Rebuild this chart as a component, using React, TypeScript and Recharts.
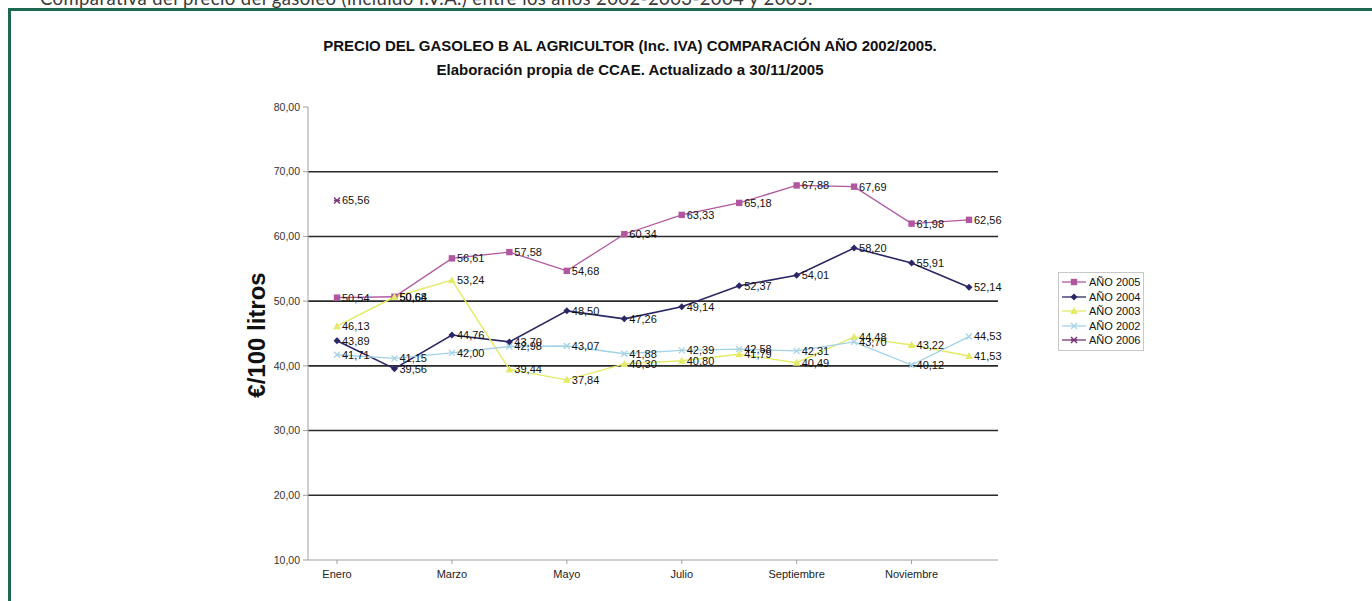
import React from 'react';
import { LineChart, Line, XAxis, YAxis, ReferenceLine, LabelList } from 'recharts';

const months = ['Enero', 'Febrero', 'Marzo', 'Abril', 'Mayo', 'Junio', 'Julio', 'Agosto', 'Septiembre', 'Octubre', 'Noviembre', 'Diciembre'];
const y2005 = [50.54, 50.68, 56.61, 57.58, 54.68, 60.34, 63.33, 65.18, 67.88, 67.69, 61.98, 62.56];
const y2004 = [43.89, 39.56, 44.76, 43.7, 48.5, 47.26, 49.14, 52.37, 54.01, 58.2, 55.91, 52.14];
const y2003 = [46.13, 50.64, 53.24, 39.44, 37.84, 40.3, 40.8, 41.79, 40.49, 44.48, 43.22, 41.53];
const y2002 = [41.71, 41.15, 42.0, 42.98, 43.07, 41.88, 42.39, 42.58, 42.31, 43.7, 40.12, 44.53];
const y2006: (number | null)[] = [65.56, null, null, null, null, null, null, null, null, null, null, null];
const yTicks = [10, 20, 30, 40, 50, 60, 70, 80];
const gridValues = [20, 30, 40, 50, 60, 70];

const data = months.map((m, i) => ({
  month: m,
  a2005: y2005[i],
  a2004: y2004[i],
  a2003: y2003[i],
  a2002: y2002[i],
  a2006: y2006[i],
}));

type Shape = 'square' | 'diamond' | 'triangle' | 'x' | 'star';
const series: { key: string; name: string; color: string; width: number; shape: Shape }[] = [
  { key: 'a2005', name: 'AÑO 2005', color: '#b0579f', width: 1.3, shape: 'square' },
  { key: 'a2004', name: 'AÑO 2004', color: '#2b2766', width: 1.6, shape: 'diamond' },
  { key: 'a2003', name: 'AÑO 2003', color: '#e4ea66', width: 1.4, shape: 'triangle' },
  { key: 'a2002', name: 'AÑO 2002', color: '#a3d2e6', width: 1.4, shape: 'x' },
  { key: 'a2006', name: 'AÑO 2006', color: '#7a3678', width: 1.3, shape: 'star' },
];

const FONT = '"Liberation Sans", Arial, sans-serif';

function marker(shape: Shape, cx: number, cy: number, color: string, key?: string) {
  const s = 3.2;
  switch (shape) {
    case 'square':
      return <rect key={key} x={cx - s} y={cy - s} width={2 * s} height={2 * s} fill={color} />;
    case 'diamond':
      return <polygon key={key} points={`${cx},${cy - 3.5} ${cx + 3.5},${cy} ${cx},${cy + 3.5} ${cx - 3.5},${cy}`} fill={color} />;
    case 'triangle':
      return <polygon key={key} points={`${cx},${cy - 4} ${cx + 3.8},${cy + 3} ${cx - 3.8},${cy + 3}`} fill={color} />;
    case 'x':
      return (
        <g key={key} stroke={color} strokeWidth={1.3}>
          <line x1={cx - 3} y1={cy - 3} x2={cx + 3} y2={cy + 3} />
          <line x1={cx - 3} y1={cy + 3} x2={cx + 3} y2={cy - 3} />
        </g>
      );
    case 'star':
    default:
      return (
        <g key={key} stroke={color} strokeWidth={1.5}>
          <line x1={cx - 3} y1={cy - 3} x2={cx + 3} y2={cy + 3} />
          <line x1={cx - 3} y1={cy + 3} x2={cx + 3} y2={cy - 3} />
          <line x1={cx - 3} y1={cy} x2={cx + 3} y2={cy} />
        </g>
      );
  }
}

const fmt = (v: any) => (v === null || v === undefined ? '' : Number(v).toFixed(2).replace('.', ','));

export default function App() {
  return (
    <div style={{ position: 'fixed', left: 0, top: 0, width: 1372, height: 601, background: '#fff', overflow: 'hidden' }}>
      <div
        style={{
          position: 'absolute',
          left: 40,
          top: -13,
          fontFamily: 'Lato, "Open Sans", sans-serif',
          fontSize: 18.5,
          letterSpacing: 0.4,
          color: '#3a3a3a',
          whiteSpace: 'nowrap',
        }}
      >
        Comparativa del precio del gasóleo (incluido I.V.A.) entre los años 2002-2003-2004 y 2005.
      </div>
      <div
        style={{
          position: 'absolute',
          left: 8,
          top: 8,
          width: 1400,
          height: 700,
          borderLeft: '3px solid #1e6a50',
          borderTop: '3px solid #1e6a50',
        }}
      />
      <div
        style={{
          position: 'absolute',
          left: 0,
          top: 34,
          width: 1260,
          textAlign: 'center',
          fontFamily: FONT,
          fontWeight: 'bold',
          fontSize: 15,
          lineHeight: '24px',
          color: '#111',
        }}
      >
        PRECIO DEL GASOLEO B AL AGRICULTOR (Inc. IVA) COMPARACIÓN AÑO 2002/2005.
        <br />
        Elaboración propia de CCAE. Actualizado a 30/11/2005
      </div>
      <div
        style={{
          position: 'absolute',
          left: 257,
          top: 335,
          transform: 'translate(-50%, -50%) rotate(-90deg)',
          fontFamily: FONT,
          fontWeight: 'bold',
          fontSize: 24,
          color: '#111',
          whiteSpace: 'nowrap',
        }}
      >
        €/100 litros
      </div>
      <div style={{ position: 'absolute', left: 0, top: 0 }}>
        <LineChart width={1372} height={601} data={data} margin={{ top: 107, right: 374, bottom: 11, left: 248 }}>
          {gridValues.map((v) => (
            <ReferenceLine key={v} y={v} stroke="#2a2a2a" strokeWidth={1.6} />
          ))}
          <XAxis
            dataKey="month"
            interval={1}
            height={30}
            padding={{ left: 29, right: 29 }}
            stroke="#a0a0a0"
            tick={{ fill: '#222', fontSize: 11, fontFamily: FONT }}
            tickSize={4}
            tickMargin={6}
          />
          <YAxis
            domain={[10, 80]}
            ticks={yTicks}
            width={60}
            stroke="#a0a0a0"
            tick={{ fill: '#333', fontSize: 10.5, fontFamily: FONT }}
            tickFormatter={(v: number) => fmt(v)}
            tickSize={5}
            tickMargin={3}
          />
          {series.map((s) => (
            <Line
              key={s.key}
              dataKey={s.key}
              name={s.name}
              type="linear"
              stroke={s.color}
              strokeWidth={s.width}
              isAnimationActive={false}
              connectNulls={false}
              dot={(p: any) =>
                p.cy === null || p.cy === undefined || p.value === null || p.value === undefined
                  ? <g key={p.key} />
                  : marker(s.shape, p.cx, p.cy, s.color, p.key)
              }
              activeDot={false}
            >
              <LabelList
                dataKey={s.key}
                position="right"
                offset={5}
                formatter={fmt}
                style={{ fontSize: 11, fontFamily: FONT, fill: '#111' }}
              />
            </Line>
          ))}
        </LineChart>
      </div>
      <div
        style={{
          position: 'absolute',
          left: 1058,
          top: 272,
          width: 84,
          border: '1px solid #c8c8c8',
          padding: '2px 0 2px 0',
          fontFamily: FONT,
          fontSize: 11,
          color: '#111',
          background: '#fff',
        }}
      >
        {series.map((s) => (
          <div key={s.key} style={{ display: 'flex', alignItems: 'center', height: 14.5 }}>
            <svg width={26} height={10} style={{ marginLeft: 2, marginRight: 2 }}>
              <line x1={1} y1={5} x2={25} y2={5} stroke={s.color} strokeWidth={1.3} />
              {marker(s.shape, 13, 5, s.color)}
            </svg>
            <span>{s.name}</span>
          </div>
        ))}
      </div>
    </div>
  );
}
